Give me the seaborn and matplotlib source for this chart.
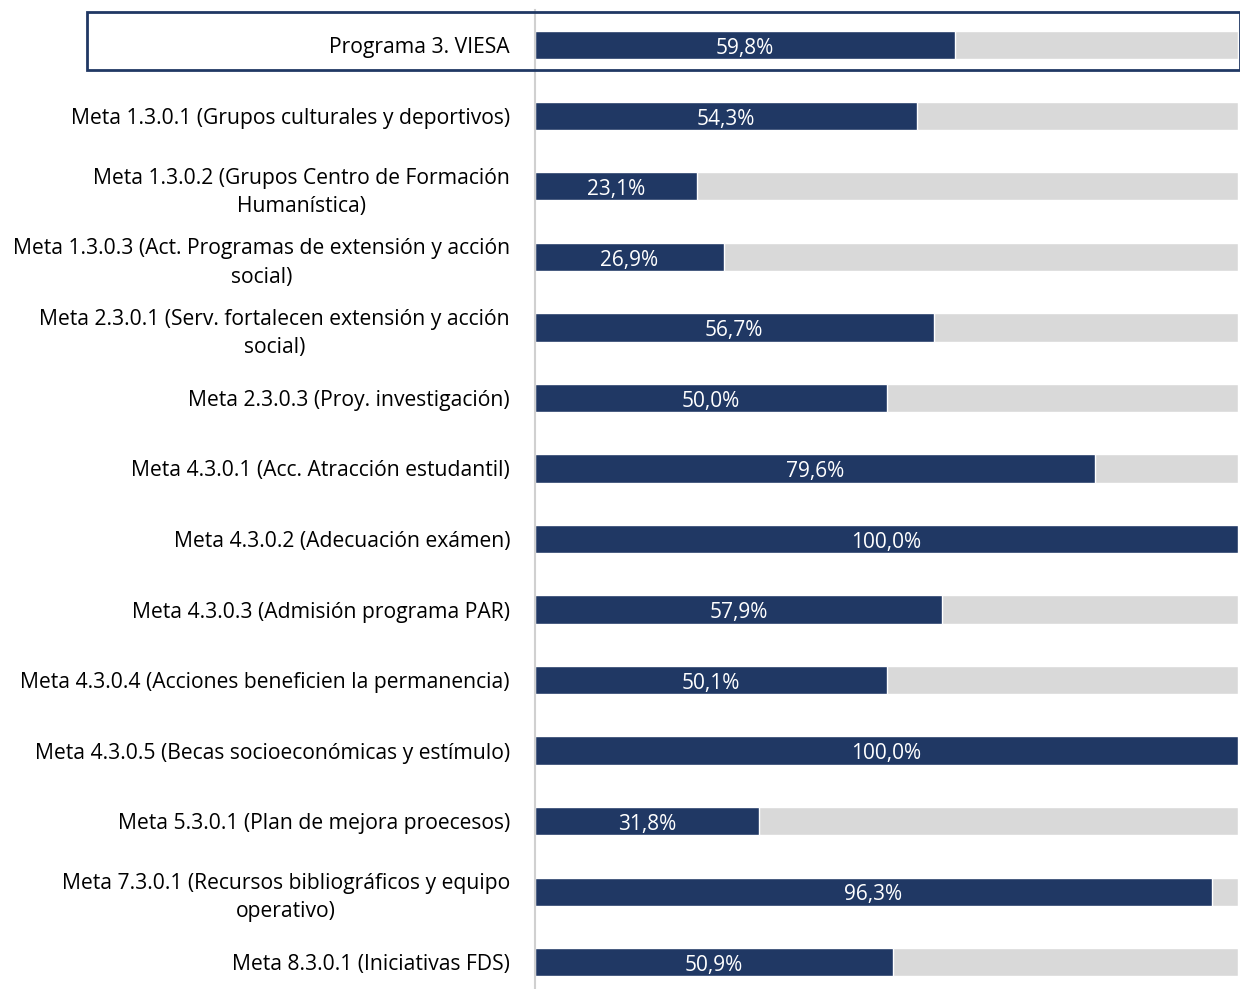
import matplotlib
matplotlib.use("Agg")
import matplotlib.pyplot as plt
import seaborn as sns
import pandas as pd
from matplotlib.patches import Rectangle

categories = [
    "Programa 3. VIESA",
    "Meta 1.3.0.1 (Grupos culturales y deportivos)",
    "Meta 1.3.0.2 (Grupos Centro de Formación\nHumanística)",
    "Meta 1.3.0.3 (Act. Programas de extensión y acción\nsocial)",
    "Meta 2.3.0.1 (Serv. fortalecen extensión y acción\nsocial)",
    "Meta 2.3.0.3 (Proy. investigación)",
    "Meta 4.3.0.1 (Acc. Atracción estudantil)",
    "Meta 4.3.0.2 (Adecuación exámen)",
    "Meta 4.3.0.3 (Admisión programa PAR)",
    "Meta 4.3.0.4 (Acciones beneficien la permanencia)",
    "Meta 4.3.0.5 (Becas socioeconómicas y estímulo)",
    "Meta 5.3.0.1 (Plan de mejora proecesos)",
    "Meta 7.3.0.1 (Recursos bibliográficos y equipo\noperativo)",
    "Meta 8.3.0.1 (Iniciativas FDS)",
]
values = [59.8, 54.3, 23.1, 26.9, 56.7, 50.0, 79.6, 100.0, 57.9, 50.1, 100.0, 31.8, 96.3, 50.9]
totals = [100.0] * len(categories)

df = pd.DataFrame({"cat": categories, "val": values, "tot": totals})

sns.set_theme(style="white")
plt.rcParams['font.family'] = ['Open Sans', 'DejaVu Sans']

W, H = 1240, 989
fig = plt.figure(figsize=(W / 100, H / 100), dpi=100)
left_px, right_px, top_px = 535, 1238, 10
ax = fig.add_axes([left_px / W, 0, (right_px - left_px) / W, (H - top_px) / H])

navy = "#203864"
grey = "#D9D9D9"

sns.barplot(data=df, y="cat", x="tot", color=grey, width=0.4, ax=ax, orient="h",
            saturation=1)
sns.barplot(data=df, y="cat", x="val", color=navy, width=0.4, ax=ax, orient="h",
            saturation=1)

ax.set_xlim(0, 100)
ax.set_ylim(13.38, -0.5)
ax.set_xlabel("")
ax.set_ylabel("")
ax.set_xticks([])
ax.tick_params(axis="y", length=0, pad=18, labelsize=15.2)
for lbl in ax.get_yticklabels():
    lbl.set_multialignment("center")
    lbl.set_linespacing(1.45)
    lbl.set_color("#000000")

for i, v in enumerate(values):
    ax.text(v / 2, i + 0.01, f"{v:.1f}%".replace(".", ","), ha="center",
            va="center_baseline", color="white", fontsize=15)

for s in ["top", "right", "bottom"]:
    ax.spines[s].set_visible(False)
ax.spines["left"].set_color("#D0D0D0")
ax.spines["left"].set_linewidth(1.5)

# highlight box around the first row
box = Rectangle((87 / W, (H - 70) / H), (1240 - 87) / W, 58 / H,
                transform=fig.transFigure, fill=False, edgecolor=navy,
                linewidth=2, clip_on=False)
fig.patches.append(box)

fig.savefig("out.png", dpi=100)
